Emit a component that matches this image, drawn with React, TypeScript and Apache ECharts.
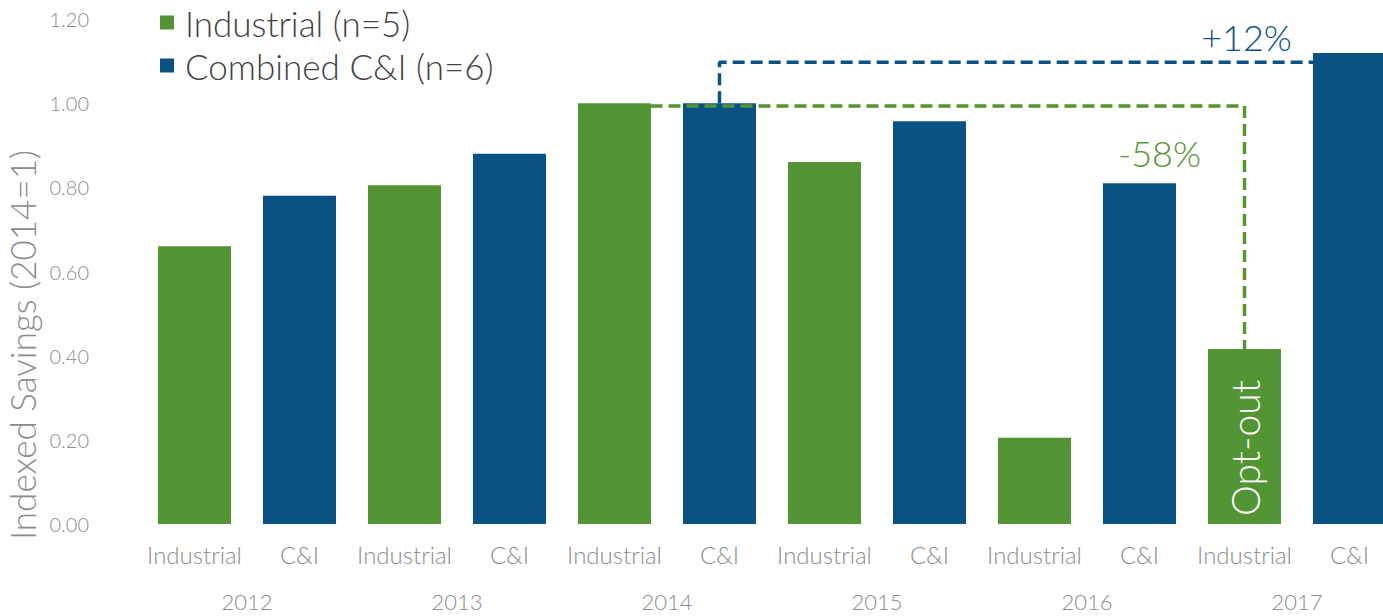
import React, { useEffect, useRef } from "react";
import * as echarts from "echarts";

const categories = ["Industrial", "C&I", "Industrial", "C&I", "Industrial", "C&I", "Industrial", "C&I", "Industrial", "C&I", "Industrial", "C&I"];
const years = ["2012", "2013", "2014", "2015", "2016", "2017"];
const industrial = [0.66, null, 0.805, null, 1.0, null, 0.86, null, 0.205, null, 0.416, null];
const combinedCI = [null, 0.78, null, 0.88, null, 1.0, null, 0.957, null, 0.81, null, 1.119];
// heights of the dashed comparison brackets (industrial, combined C&I)
const bracketLevels = [0.993, 1.097];
const yTicks = { min: 0, max: 1.2, interval: 0.2 };

const GREEN = "#539434";
const BLUE = "#0a5283";
const GREY = "#8c8c8c";
const FONT = "Lato, 'Open Sans', sans-serif";

export default function App() {
  const ref = useRef<HTMLDivElement>(null);
  useEffect(() => {
    document.body.style.margin = "0";
    document.body.style.overflow = "hidden";
    document.documentElement.style.overflow = "hidden";
    const chart = echarts.init(ref.current!, null, { renderer: "svg" });
    const indBase = 4, indEnd = 10, ciBase = 5, ciEnd = 11;
    const indChange = Math.round(((industrial[indEnd] as number) / (industrial[indBase] as number) - 1) * 100);
    const ciChange = Math.round(((combinedCI[ciEnd] as number) / (combinedCI[ciBase] as number) - 1) * 100);
    chart.setOption({
      animation: false,
      textStyle: { fontFamily: FONT, fontWeight: 300 },
      legend: {
        left: 155,
        top: 0,
        orient: "vertical",
        itemWidth: 14,
        itemHeight: 14,
        itemGap: 8,
        textStyle: { fontSize: 35, color: "#444444", fontFamily: FONT, fontWeight: 300, padding: [0, 0, 0, 6] },
        data: [
          { name: "Industrial (n=5)", icon: "rect" },
          { name: "Combined C&I (n=6)", icon: "rect" },
        ],
      },
      graphic: [
        {
          type: "text",
          x: 22,
          y: 345,
          rotation: Math.PI / 2,
          style: {
            text: "Indexed Savings (2014=1)",
            fill: GREY,
            font: "300 35px " + FONT,
            align: "center",
            verticalAlign: "middle",
          },
        },
      ],
      grid: { left: 142, top: 19, width: 1260, height: 505 },
      xAxis: [
        {
          type: "category",
          data: categories,
          axisLine: { show: false },
          axisTick: { show: false },
          axisLabel: { color: GREY, fontSize: 24, margin: 18, interval: 0, fontFamily: FONT, fontWeight: 300 },
        },
        {
          type: "category",
          data: years,
          position: "bottom",
          offset: 46,
          axisLine: { show: false },
          axisTick: { show: false },
          axisLabel: { color: GREY, fontSize: 22, margin: 20, interval: 0, fontFamily: FONT, fontWeight: 300 },
        },
      ],
      yAxis: {
        type: "value",
        min: yTicks.min,
        max: yTicks.max,
        interval: yTicks.interval,
        splitLine: { show: false },
        axisLine: { show: false },
        axisTick: { show: false },
        axisLabel: { color: GREY, fontSize: 20, margin: 53, formatter: (v: number) => v.toFixed(2), fontFamily: FONT, fontWeight: 300 },
      },
      series: [
        {
          name: "Industrial (n=5)",
          type: "bar",
          stack: "s",
          barWidth: 73,
          itemStyle: { color: GREEN },
          data: industrial.map((v, i) =>
            i === indEnd
              ? {
                  value: v,
                  label: {
                    show: true,
                    position: "insideBottom",
                    rotate: 90,
                    align: "left",
                    verticalAlign: "middle",
                    distance: 8,
                    formatter: "Opt-out",
                    color: "#fff",
                    fontSize: 39,
                    fontFamily: FONT,
                    fontWeight: 300,
                  },
                }
              : v
          ),
        },
        {
          name: "Combined C&I (n=6)",
          type: "bar",
          stack: "s",
          barWidth: 73,
          itemStyle: { color: BLUE },
          data: combinedCI,
        },
        {
          type: "line",
          symbol: "none",
          silent: true,
          z: 5,
          lineStyle: { color: BLUE, width: 3.5, type: [12, 6] },
          data: [
            [ciBase, combinedCI[ciBase]],
            [ciBase, bracketLevels[1]],
            [ciEnd, bracketLevels[1]],
          ],
          markPoint: {
            symbol: "rect",
            symbolSize: 0,
            label: { show: true, color: BLUE, fontSize: 36, fontFamily: FONT, fontWeight: 300, offset: [-103, -25], formatter: "+" + ciChange + "%" },
            data: [{ coord: [ciEnd, bracketLevels[1]] }],
          },
        },
        {
          type: "line",
          symbol: "none",
          silent: true,
          z: 6,
          lineStyle: { color: GREEN, width: 3.5, type: [12, 6] },
          data: [
            [indBase, bracketLevels[0]],
            [indEnd, bracketLevels[0]],
            [indEnd, industrial[indEnd]],
          ],
          markPoint: {
            symbol: "rect",
            symbolSize: 0,
            label: { show: true, color: GREEN, fontSize: 36, fontFamily: FONT, fontWeight: 300, offset: [-85, 47], formatter: indChange + "%" },
            data: [{ coord: [indEnd, bracketLevels[0]] }],
          },
        },
      ],
    });
    return () => chart.dispose();
  }, []);
  return <div ref={ref} style={{ width: 1420, height: 616 }} />;
}
